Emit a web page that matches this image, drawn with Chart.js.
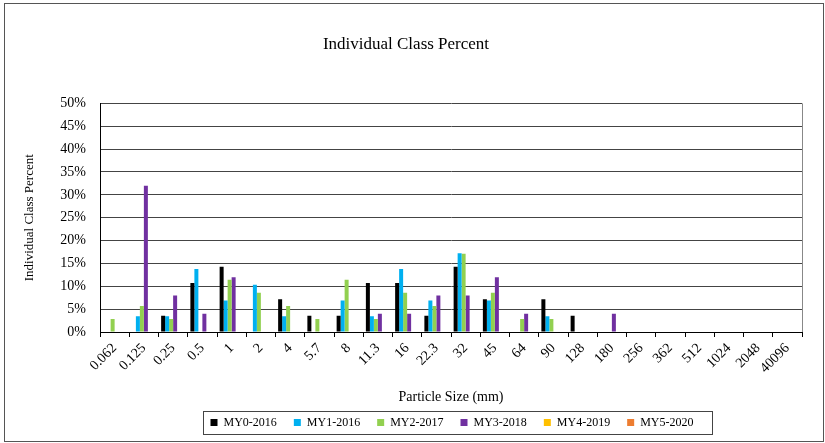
<!DOCTYPE html>
<html>
<head>
<meta charset="utf-8">
<script src="https://cdn.jsdelivr.net/npm/chart.js@4/dist/chart.umd.min.js"></script>
<style>
  body { margin: 0; background: #fff; }
  #wrap { width: 825px; height: 443px; }
</style>
</head>
<body>
<div id="wrap"><canvas id="myChart" width="825" height="443"></canvas></div>
<script>
// particle size classes (mm)
const sizes = ['0.062', '0.125', '0.25', '0.5', '1', '2', '4', '5.7', '8', '11.3', '16', '22.3',
  '32', '45', '64', '90', '128', '180', '256', '362', '512', '1024', '2048', '40096'];

// percent per class
const my0 = [0, 0, 3.57, 10.71, 14.29, 0, 7.14, 3.57, 3.57, 10.71, 10.71, 3.57, 14.29, 7.14, 0, 7.14, 3.57, 0, 0, 0, 0, 0, 0, 0];
const my1 = [0, 3.45, 3.45, 13.79, 6.9, 10.34, 3.45, 0, 6.9, 3.45, 13.79, 6.9, 17.24, 6.9, 0, 3.45, 0, 0, 0, 0, 0, 0, 0, 0];
const my2 = [2.86, 5.71, 2.86, 0, 11.43, 8.57, 5.71, 2.86, 11.43, 2.86, 8.57, 5.71, 17.14, 8.57, 2.86, 2.86, 0, 0, 0, 0, 0, 0, 0, 0];
const my3 = [0, 32, 8, 4, 12, 0, 0, 0, 0, 4, 4, 8, 8, 12, 4, 0, 0, 4, 0, 0, 0, 0, 0, 0];
const my4 = [0, 0, 0, 0, 0, 0, 0, 0, 0, 0, 0, 0, 0, 0, 0, 0, 0, 0, 0, 0, 0, 0, 0, 0];
const my5 = [0, 0, 0, 0, 0, 0, 0, 0, 0, 0, 0, 0, 0, 0, 0, 0, 0, 0, 0, 0, 0, 0, 0, 0];

const seriesNames = ['MY0-2016', 'MY1-2016', 'MY2-2017', 'MY3-2018', 'MY4-2019', 'MY5-2020'];
const seriesColors = ['#000000', '#00B0F0', '#92D050', '#7030A0', '#FFC000', '#ED7D31'];
const seriesData = [my0, my1, my2, my3, my4, my5];

Chart.defaults.font.family = "'Liberation Serif', 'Times New Roman', serif";
Chart.defaults.color = '#000';

// move the legend under the plot like the original (centre ~452, row ~422)
const legendSpot = {
  id: 'legendSpot',
  afterLayout(chart) {
    const lg = chart.legend;
    const dx = 46;
    const dy = 422.5 - (lg.top + 23);
    lg.left += dx; lg.right += dx;
    lg.top += dy; lg.bottom += dy;
  }
};

// frame around whole chart, right border of plot and box around legend
const frames = {
  id: 'frames',
  afterDraw(chart) {
    const ctx = chart.ctx;
    const a = chart.chartArea;
    ctx.save();
    ctx.lineWidth = 1;
    ctx.strokeStyle = '#888';
    ctx.beginPath();
    ctx.moveTo(Math.round(a.right) + 0.5, a.top);
    ctx.lineTo(Math.round(a.right) + 0.5, a.bottom);
    ctx.stroke();

    ctx.strokeStyle = '#555';
    ctx.strokeRect(4.5, 3.5, 819, 438);

    const boxes = chart.legend.legendHitBoxes;
    if (boxes && boxes.length) {
      let l = Infinity, r = -Infinity, t = Infinity, b = -Infinity;
      boxes.forEach(h => {
        l = Math.min(l, h.left); r = Math.max(r, h.left + h.width);
        t = Math.min(t, h.top); b = Math.max(b, h.top + h.height);
      });
      const cy = (t + b) / 2;
      ctx.strokeStyle = '#444';
      ctx.strokeRect(Math.round(l - 8) + 0.5, Math.round(cy - 11.5) + 0.5, Math.round(r - l + 26), 23);
    }
    ctx.restore();
  }
};

const ctx = document.getElementById('myChart').getContext('2d');
const chart = new Chart(ctx, {
  type: 'bar',
  data: {
    labels: sizes,
    datasets: seriesData.map((d, i) => ({
      label: seriesNames[i],
      data: d,
      backgroundColor: seriesColors[i],
      borderWidth: 0,
      categoryPercentage: 0.82,
      barPercentage: 1
    }))
  },
  options: {
    responsive: false,
    animation: false,
    layout: { padding: { left: 10, right: 23, top: 0, bottom: 2 } },
    plugins: {
      title: {
        display: true,
        text: 'Individual Class Percent',
        font: { size: 17, weight: 'normal' },
        color: '#000',
        padding: { top: 34, bottom: 49 }
      },
      legend: {
        position: 'bottom',
        labels: { boxWidth: 7, boxHeight: 7, padding: 17, font: { size: 12 }, color: '#000' }
      },
      tooltip: { enabled: false }
    },
    scales: {
      x: {
        grid: { drawOnChartArea: false, drawTicks: true, tickLength: 5, color: '#000' },
        border: { color: '#000' },
        ticks: { minRotation: 45, maxRotation: 45, font: { size: 14 }, color: '#000', padding: 3, autoSkip: false },
        title: { display: true, text: 'Particle Size (mm)', font: { size: 14 }, color: '#000', padding: { top: 0, bottom: -4 } },
        afterFit(scale) { scale.height = 70; }
      },
      y: {
        min: 0,
        max: 50,
        grid: { color: '#444', drawTicks: false },
        border: { color: '#000' },
        ticks: { stepSize: 5, padding: 14, font: { size: 14 }, color: '#000', callback: v => v + '%' },
        title: { display: true, text: 'Individual Class Percent', font: { size: 13 }, color: '#000', padding: { top: 12, bottom: 0 } },
        afterFit(scale) { scale.width = 90; }
      }
    }
  },
  plugins: [legendSpot, frames]
});
</script>
</body>
</html>
